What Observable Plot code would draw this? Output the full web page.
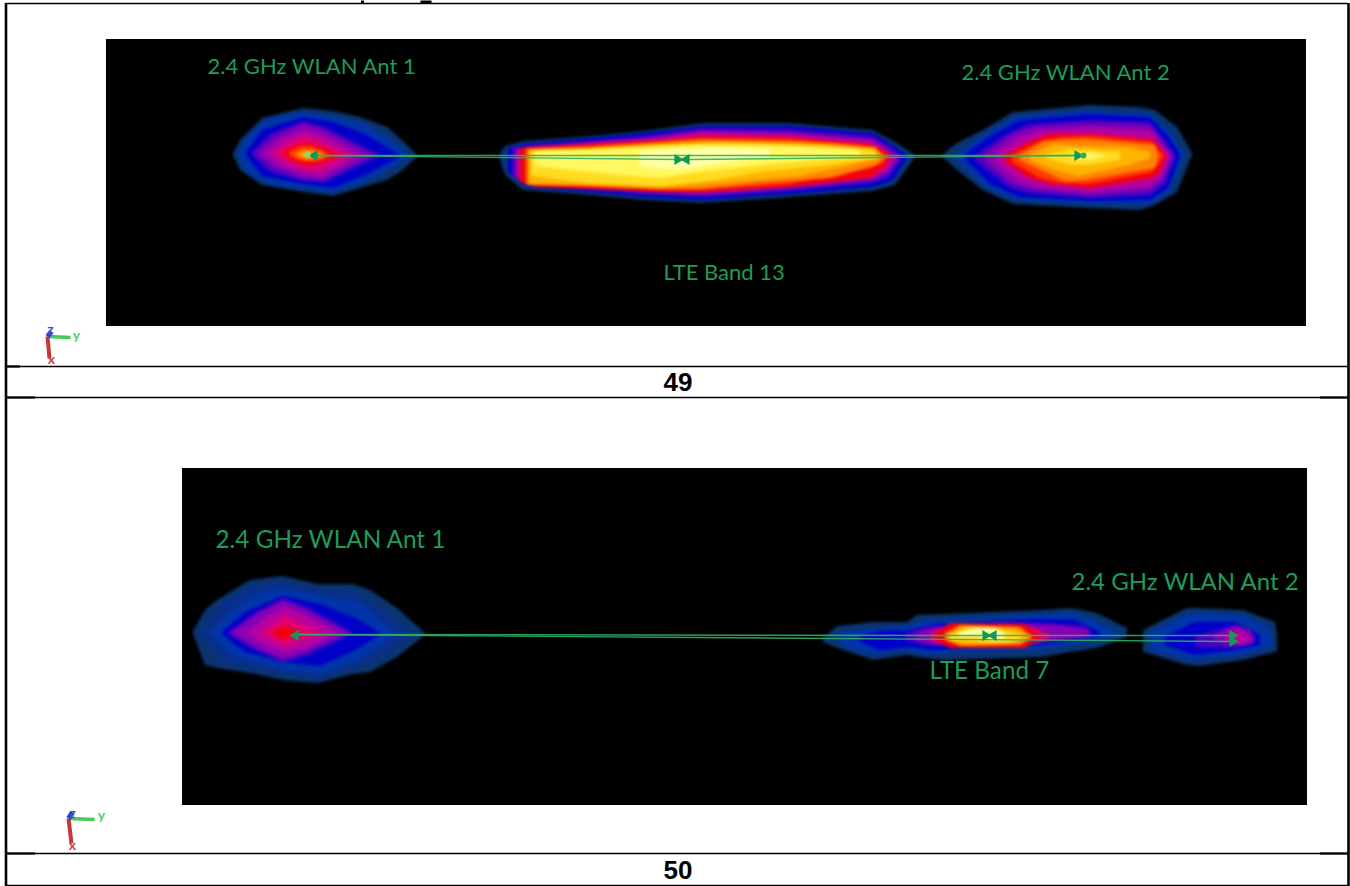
<!DOCTYPE html>
<html>
<head>
<meta charset="utf-8">
<script src="https://cdn.jsdelivr.net/npm/d3@7"></script>
<script src="https://cdn.jsdelivr.net/npm/@observablehq/plot@0.6"></script>
<style>html,body{margin:0;padding:0;background:#fff;overflow:hidden}svg{display:block}</style>
</head>
<body>
<div id="chart"></div>
<script>
const levelNames = ["L0","Lb","L1","L2","L3","L4","L5","L6","L7","L8","L9","L10","L11","L12","L13"];
const levelColors = ["#0a3470","#08308a","#0034a8","#0000c8","#5000c0","#8a00b4","#b800a0","#e00070","#f20010","#ff3a00","#ff8400","#ffb400","#ffdc20","#fff860","#ffffa8"];

const bandTop1 = [
 ["L0",[[233,153,155],[240,140,170],[262,118,185],[303,108,192],[333,111,196],[360,117,188],[387,127,180],[403,141,170],[417,155,156]]],
 ["L1",[[238,153,156],[246,136,172],[268,118,184],[303,112,189],[333,116,192],[365,124,182],[395,142,166],[410,155,156]]],
 ["L2",[[246,152,155],[262,130,176],[303,117,184],[333,122,188],[365,134,175],[400,155,157]]],
 ["L3",[[252,152,155],[270,134,172],[303,121,181],[325,127,182],[350,140,170],[380,155,156]]],
 ["L4",[[258,152,155],[275,137,168],[303,124,178],[323,130,180],[350,144,166],[372,155,156]]],
 ["L5",[[266,152,155],[282,139,166],[305,130,174],[323,136,175],[345,147,163],[360,155,156]]],
 ["L6",[[275,152,155],[290,142,164],[305,136,170],[320,141,170],[350,155,156]]],
 ["L7",[[283,152,155],[295,145,162],[308,143,166],[322,147,163],[338,155,156]]],
 ["L8",[[289,152,155],[298,147,160],[310,146,162],[322,150,160],[330,155,156]]],
 ["L9",[[295,153,155],[305,149,160],[318,151,159],[325,155,156]]],
 ["L10",[[301,154,156],[308,151,158],[318,155,156]]]
];
const bandTop2 = [
 ["L0",[[500,153,160],[505,146,175],[523,141,190],[590,136,195],[643,131,200],[703,123,203],[790,123,197],[873,130,191],[895,142,185],[915,155,157]]],
 ["L2",[[508,148,172],[526,144,187],[590,138,192],[643,133,197],[703,126,200],[790,126,194],[873,133,187],[893,145,180],[907,155,158]]],
 ["L3",[[512,148,176],[528,146,186],[590,141,190],[643,136,194],[703,128,197],[790,129,191],[873,136,183],[890,146,176],[902,156,158]]],
 ["L5",[[516,149,178],[530,146,184],[590,142,188],[650,138,192],[703,131,194],[790,133,188],[873,140,179],[888,150,172],[897,156,158]]],
 ["L7",[[520,148,182],[535,147,187],[590,144,189],[660,140,192],[700,136,192],[790,137,187],[870,144,178],[884,150,168],[890,156,158]]],
 ["L8",[[525,149,184],[590,146,187],[660,141,190],[700,138,190],[790,139,184],[860,145,170],[882,152,164],[887,156,158]]],
 ["L9",[[527,149,185],[590,147,186],[660,143,189],[700,140,189],[760,141,183],[830,143,178],[875,147,166],[884,156,158]]],
 ["L10",[[529,150,184],[590,148,185],[660,144,188],[720,142,183],[800,143,176],[875,149,160],[880,156,158]]],
 ["L11",[[531,150,175],[545,149,178],[590,149,183],[660,145,186],[715,143,180],[760,144,172],[830,146,165],[875,150,158]]],
 ["L12",[[535,151,166],[590,150,172],[660,147,178],[700,145,172],[780,146,163],[860,150,156]]],
 ["L13",[[640,151,166],[680,149,170],[720,148,163],[770,150,156]]]
];
const bandTop3 = [
 ["L0",[[943,154,157],[957,143,170],[983,130,190],[1013,112,204],[1090,105,208],[1140,107,210],[1155,110,205],[1177,127,192],[1192,153,155]]],
 ["L1",[[955,155,158],[985,134,187],[1015,116,200],[1090,110,204],[1150,114,204],[1170,131,192],[1184,153,155]]],
 ["L2",[[965,154,159],[990,136,184],[1020,120,197],[1090,114,201],[1150,117,200],[1168,136,188],[1180,154,156]]],
 ["L3",[[975,155,160],[1010,132,188],[1030,124,193],[1090,120,198],[1150,122,195],[1165,140,184],[1175,155,157]]],
 ["L4",[[985,155,161],[1013,134,184],[1035,127,190],[1090,124,195],[1150,126,190],[1163,143,180],[1172,155,157]]],
 ["L5",[[995,155,162],[1020,138,181],[1040,131,187],[1090,128,192],[1150,131,186],[1162,145,176],[1170,155,157]]],
 ["L7",[[1005,155,162],[1030,141,178],[1050,134,184],[1090,134,188],[1152,139,178],[1160,147,172],[1166,155,157]]],
 ["L8",[[1012,155,162],[1040,141,178],[1060,137,183],[1090,136,184],[1152,142,172],[1163,155,157]]],
 ["L9",[[1020,155,160],[1045,141,172],[1065,140,181],[1085,139,180],[1155,145,168],[1158,155,157]]],
 ["L10",[[1030,155,160],[1055,144,170],[1078,146,176],[1130,147,165],[1150,152,158]]],
 ["L11",[[1045,155,158],[1070,149,165],[1090,150,165],[1120,152,160]]],
 ["L12",[[1070,155,157],[1090,152,160],[1105,155,156]]]
];
const bandBottom1 = [
 ["L0",[[193,631,634],[205,610,665],[217,600,668],[250,580,673],[283,576,680],[317,584,683],[353,584,674],[370,590,672],[397,608,657],[425,633,635]]],
 ["Lb",[[200,632,634],[222,603,662],[250,586,668],[283,582,674],[320,590,678],[355,592,668],[385,610,655],[410,633,635]]],
 ["L1",[[210,632,634],[232,610,655],[260,592,664],[283,588,670],[320,596,674],[360,602,660],[395,633,635]]],
 ["L2",[[222,632,634],[245,612,652],[283,596,662],[320,604,666],[355,618,650],[380,633,635]]],
 ["L3",[[228,632,634],[255,612,650],[283,598,662],[305,606,656],[352,632,634]]],
 ["L4",[[233,632,634],[258,614,648],[283,601,659],[305,610,652],[347,632,634]]],
 ["L5",[[248,632,634],[265,618,645],[285,607,652],[305,615,648],[335,632,634]]],
 ["L6",[[262,632,634],[285,616,646],[320,632,634]]],
 ["L7",[[272,632,634],[284,625,640],[300,632,634]]]
];
const bandBottom2 = [
 ["L0",[[823,638,642],[837,626,648],[873,622,660],[907,622,655],[917,615,657],[943,614,660],[1043,610,657],[1070,608,652],[1097,613,648],[1127,628,637]]],
 ["L1",[[840,632,645],[873,628,655],[905,626,650],[925,620,654],[1043,614,650],[1070,612,646],[1095,620,642],[1118,632,636]]],
 ["L2",[[860,636,642],[880,631,650],[910,630,647],[935,624,650],[1040,619,645],[1075,620,640],[1100,632,636]]],
 ["L3",[[905,634,640],[925,627,645],[1000,622,648],[1050,623,642],[1085,626,638],[1092,632,636]]],
 ["L4",[[915,634,640],[935,627,645],[1010,623,646],[1060,626,640],[1088,630,636]]],
 ["L6",[[930,633,640],[950,625,647],[1020,624,647],[1040,630,642],[1050,635,637]]],
 ["L7",[[935,633,640],[950,623,648],[1025,624,648],[1040,635,638]]],
 ["L9",[[945,633,640],[960,625,646],[1020,627,645],[1032,636,638]]],
 ["L10",[[948,634,640],[965,626,645],[1015,628,643],[1028,636,638]]],
 ["L11",[[950,635,640],[970,627,640],[990,627,643],[1010,632,642],[1022,636,638]]],
 ["L13",[[958,633,637],[975,628,636],[995,628,640],[1005,634,638]]]
];
const bandBottom3 = [
 ["L0",[[1143,630,652],[1187,608,665],[1200,608,666],[1243,610,660],[1275,622,652],[1277,635,651]]],
 ["L1",[[1150,632,650],[1190,613,660],[1243,615,655],[1268,627,648],[1272,637,645]]],
 ["L2",[[1165,636,645],[1195,622,655],[1235,622,650],[1260,635,645]]],
 ["L3",[[1195,636,646],[1235,625,648],[1255,635,643]]],
 ["L4",[[1213,636,640],[1235,625,645],[1250,630,645],[1254,638,640]]],
 ["L5",[[1225,636,640],[1240,630,645],[1250,637,640]]]
];
const blobs = [bandTop1,bandTop2,bandTop3,bandBottom1,bandBottom2,bandBottom3];

const panels = [{x1:106,x2:1306,y1:39,y2:326},{x1:182,x2:1307,y1:468,y2:805}];
const rowRules = [{y:366,x1:5,x2:1348},{y:397,x1:5,x2:1348},{y:853,x1:5,x2:1348},{y:885,x1:5,x2:1348},{y:3,x1:5,x2:1348}];
const heavyRules = [{y:366,x1:5,x2:20},{y:397,x1:5,x2:35},{y:397,x1:1320,x2:1348},{y:853,x1:5,x2:35},{y:853,x1:1320,x2:1348}];
const colRules = [{x:5.5,y1:3,y2:886},{x:1348,y1:3,y2:886}];
const descenderStubs = [{x1:362,y1:0,x2:362,y2:3,w:3},{x1:420,y1:1.5,x2:431,y2:1.5,w:3}];

const pageNumbers = [{x:677.5,y:382,t:"49"},{x:677.5,y:870,t:"50"}];
const labels = [
 {x:207,y:66,t:"2.4 GHz WLAN Ant 1",s:22},{x:961,y:72,t:"2.4 GHz WLAN Ant 2",s:22},{x:663,y:272,t:"LTE Band 13",s:22},
 {x:215,y:540,t:"2.4 GHz WLAN Ant 1",s:24.3},{x:1071,y:582,t:"2.4 GHz WLAN Ant 2",s:24},{x:929,y:671,t:"LTE Band 7",s:24.3}
];
const linkLines = [
 {id:1,x1:315,y1:155,x2:1075,y2:155},{id:2,x1:315,y1:155,x2:678,y2:159},{id:3,x1:688,y1:159,x2:1075,y2:155},
 {id:4,x1:292,y1:634,x2:982,y2:635},{id:5,x1:292,y1:634,x2:1232,y2:641},{id:6,x1:992,y1:635,x2:1232,y2:635}
];
const markersRight = [[677,159],[1077,155],[985,635],[1232,635],[1232,641]];
const markersLeft = [[314,155],[686,159],[295,635],[993,635]];
const peakDots = [[307,154,"#9ad466"],[1083,155,"#35aa5e"]];

const triadX = [[47,336,49,358],[68,818,71,843]];
const triadY = [[47,336,70,337],[68,818,94,819]];
const triadZ = [[47,336,51,331],[68,818,72,812]];
const triadLabels = [
 {x:76,y:335,t:"y",c:"#4fd35f"},{x:51,y:359,t:"x",c:"#d8403f"},{x:50,y:329,t:"z",c:"#3552d8"},
 {x:101,y:815,t:"y",c:"#4fd35f"},{x:72,y:845,t:"x",c:"#d8403f"},{x:72,y:813,t:"z",c:"#3552d8"}
];

const blobRows = blobs.flatMap((blob,b)=>blob.flatMap(([level,rows])=>rows.map(([x,y1,y2])=>({b,level,x,y1,y2,key:b+level}))));
const segs = (arr)=>arr.map(([x1,y1,x2,y2])=>({x1,y1,x2,y2}));

const plot = Plot.plot({
  width:1350,height:886,margin:0,
  x:{domain:[0,1350],range:[0,1350],axis:null},
  y:{domain:[0,886],range:[0,886],axis:null},
  color:{type:"ordinal",domain:levelNames,range:levelColors,legend:false},
  style:{background:"#fff"},
  marks:[
    Plot.rect(panels,{x1:"x1",x2:"x2",y1:"y1",y2:"y2",fill:"#000",imageFilter:"blur(0.4px)"}),
    Plot.areaY(blobRows,{x:"x",y1:"y1",y2:"y2",z:"key",fill:"level",curve:"linear",imageFilter:"blur(1.6px)"}),
    Plot.link(linkLines,{x1:"x1",y1:"y1",x2:"x2",y2:"y2",stroke:"#2fb060",strokeWidth:1.4,strokeOpacity:0.9}),
    Plot.dot(markersRight,{x:d=>d[0],y:d=>d[1],symbol:"triangle",r:4,rotate:90,fill:"#129a55"}),
    Plot.dot(markersLeft,{x:d=>d[0],y:d=>d[1],symbol:"triangle",r:4,rotate:-90,fill:"#129a55"}),
    Plot.dot(peakDots,{x:d=>d[0],y:d=>d[1],r:3,fill:d=>d[2]}),
    Plot.text(labels,{x:"x",y:"y",text:"t",fontSize:"s",textAnchor:"start",fill:"#1f9c58",fontFamily:"Lato, 'Open Sans', sans-serif"}),
    Plot.link(segs(triadY),{x1:"x1",y1:"y1",x2:"x2",y2:"y2",stroke:"#45c85a",strokeWidth:3.5,imageFilter:"blur(0.5px)"}),
    Plot.link(segs(triadX),{x1:"x1",y1:"y1",x2:"x2",y2:"y2",stroke:"#c8353a",strokeWidth:4,imageFilter:"blur(0.5px)"}),
    Plot.link(segs(triadZ),{x1:"x1",y1:"y1",x2:"x2",y2:"y2",stroke:"#3040c8",strokeWidth:5,imageFilter:"blur(0.5px)"}),
    Plot.text(triadLabels,{x:"x",y:"y",text:"t",fill:"c",fontSize:14,fontWeight:"bold",fontFamily:"Lato, sans-serif"}),
    Plot.link(descenderStubs,{x1:"x1",y1:"y1",x2:"x2",y2:"y2",stroke:"#000",strokeWidth:"w"}),
    Plot.ruleY(rowRules,{y:"y",x1:"x1",x2:"x2",stroke:"#000",strokeWidth:1.3}),
    Plot.ruleY(heavyRules,{y:"y",x1:"x1",x2:"x2",stroke:"#000",strokeWidth:2.2}),
    Plot.ruleX(colRules,{x:"x",y1:"y1",y2:"y2",stroke:"#000",strokeWidth:2.6}),
    Plot.text(pageNumbers,{x:"x",y:"y",text:"t",fontSize:26,fontWeight:"bold",fill:"#000",fontFamily:"'Liberation Sans', Arial, sans-serif"})
  ]
});
document.getElementById("chart").appendChild(plot);
</script>
</body>
</html>
